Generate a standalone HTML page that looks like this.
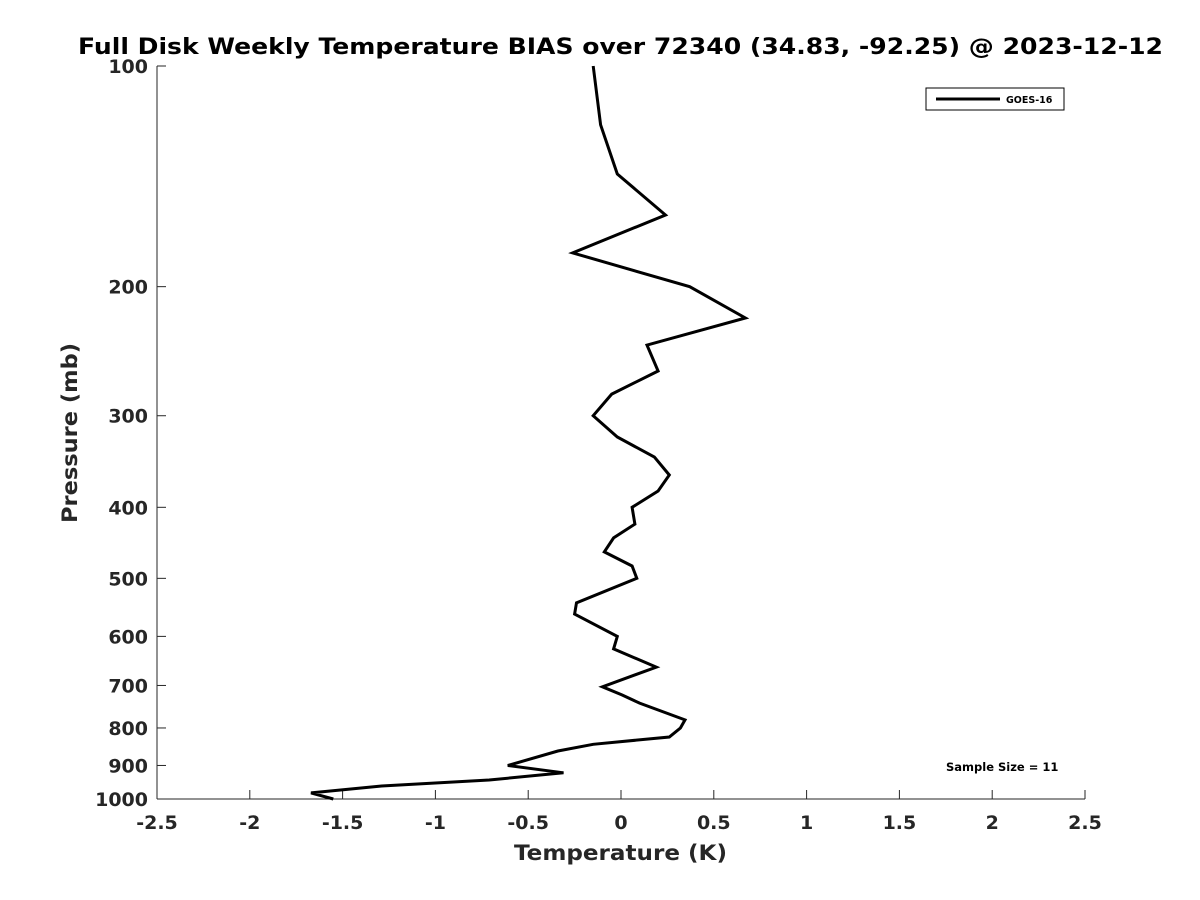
<!DOCTYPE html>
<html><head><meta charset="utf-8"><style>
body{margin:0;background:#fff;font-family:"DejaVu Sans","Liberation Sans",sans-serif}
svg{display:block}
text{font-family:"DejaVu Sans","Liberation Sans",sans-serif}
</style></head><body>
<svg width="1200" height="900" id="c">
<rect width="1200" height="900" fill="#fff"/>
<text x="78" y="54" textLength="1085" lengthAdjust="spacingAndGlyphs" font-weight="bold" font-size="22" fill="#000">Full Disk Weekly Temperature BIAS over 72340 (34.83, -92.25) @ 2023-12-12</text>
<g id="axes"></g>
<text x="514" y="860" textLength="213" lengthAdjust="spacingAndGlyphs" font-weight="bold" font-size="21" fill="#262626">Temperature (K)</text>
<text transform="translate(77,523) rotate(-90)" textLength="180" lengthAdjust="spacingAndGlyphs" font-weight="bold" font-size="21" fill="#262626">Pressure (mb)</text>
<g>
<rect x="926" y="88" width="138" height="22" fill="#fff" stroke="#000" stroke-width="1"/>
<line x1="936" y1="99" x2="1000" y2="99" stroke="#000" stroke-width="3"/>
<text x="1006" y="103" font-weight="bold" font-size="9.5" fill="#000">GOES-16</text>
</g>
<text x="946" y="771" font-weight="bold" font-size="11.5" fill="#000">Sample Size = 11</text>
</svg>
<script>
const pressures=[100,120.3,140.4,159.7,179.9,200,220.7,240.3,260.7,280.3,300,320.7,341.6,361.4,380,400,421.6,440.4,460.2,481,500,540,559.4,600,624,660.7,703,721,740,780,800,823,842,860,900,921,942,960,981,1000];
const temps=[-0.15,-0.11,-0.02,0.24,-0.26,0.37,0.67,0.14,0.20,-0.05,-0.15,-0.02,0.18,0.26,0.20,0.06,0.075,-0.04,-0.09,0.06,0.085,-0.24,-0.25,-0.02,-0.04,0.19,-0.10,0.005,0.10,0.345,0.32,0.26,-0.15,-0.34,-0.61,-0.31,-0.71,-1.29,-1.67,-1.55];
const xTicks=[-2.5,-2,-1.5,-1,-0.5,0,0.5,1,1.5,2,2.5];
const yTicks=[100,200,300,400,500,600,700,800,900,1000];
const NS="http://www.w3.org/2000/svg";
const X0=157,X1=1085,Y0=66,Y1=799;
function xs(t){return X0+(t+2.5)/5*(X1-X0);}
function ys(p){return Y0+Math.log10(p/100)*(Y1-Y0);}
const g=document.getElementById('axes');
function mk(tag,attrs){const e=document.createElementNS(NS,tag);for(const k in attrs)e.setAttribute(k,attrs[k]);g.appendChild(e);return e;}
const xa=mk('line',{x1:X0,y1:Y1,x2:X1,y2:Y1,stroke:'#262626','stroke-width':1});


const ya=mk('line',{x1:X0,y1:Y0,x2:X0,y2:Y1,stroke:'#262626','stroke-width':1});


xTicks.forEach(t=>{
 mk('line',{x1:xs(t),y1:Y1,x2:xs(t),y2:Y1-9,stroke:'#262626'});
 const tx=mk('text',{x:xs(t),y:829,'text-anchor':'middle','font-weight':'bold','font-size':19,fill:'#262626'});
 tx.textContent=String(t);
 
 
});
yTicks.forEach(p=>{
 mk('line',{x1:X0,y1:ys(p),x2:X0+9,y2:ys(p),stroke:'#262626'});
 const tx=mk('text',{x:148,y:ys(p)+7,'text-anchor':'end','font-weight':'bold','font-size':19,fill:'#262626'});
 tx.textContent=String(p);
 
 
});
const pts=pressures.map((p,i)=>xs(temps[i]).toFixed(1)+','+ys(p).toFixed(1)).join(' ');
const line=mk('polyline',{points:pts,fill:'none',stroke:'#000','stroke-width':3,'stroke-linejoin':'miter'});


</script>
</body></html>
